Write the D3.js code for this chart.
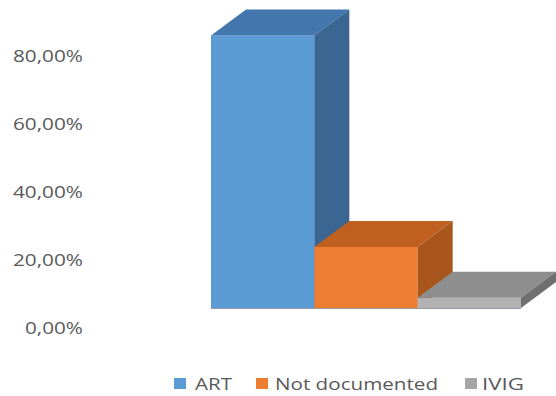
<!DOCTYPE html>
<html><head><meta charset="utf-8">
<script src="https://cdn.jsdelivr.net/npm/d3@7"></script>
<style>body{margin:0;background:#fff}svg{display:block}</style>
</head><body>
<script>
const categories = ["ART", "Not documented", "IVIG"];
const values = [80.4, 18.0, 3.0];
const tickValues = [0, 20, 40, 60, 80];
const tickLabels = ["0,00%", "20,00%", "40,00%", "60,00%", "80,00%"];
const frontColors = ["#5B9BD5", "#ED7D31", "#B2B2B2"];
const topColors = ["#4476AE", "#BF5F20", "#8E8E8E"];
const sideColors = ["#3A6691", "#A9561D", "#6F6F6F"];

const W = 556, H = 396;
const svg = d3.select("body").append("svg").attr("width", W).attr("height", H);

const y = d3.scaleLinear().domain([0, 80]).range([327, 55.8]);
const x = d3.scaleBand().domain(categories).range([211, 521]).padding(0);
const frontShift = 19;    // front plane sits above axis label positions
const dx = 35, dy = -26;  // depth projection

const labelWidths = {"0,00%": 58, "20,00%": 70, "40,00%": 70, "60,00%": 70, "80,00%": 70};
const ax = svg.append("g");
tickValues.forEach((t, i) => {
  const txt = tickLabels[i];
  ax.append("text")
    .attr("x", 83).attr("y", y(t))
    .attr("text-anchor", "end")
    .attr("dominant-baseline", "central")
    .attr("font-family", "Open Sans")
    .attr("font-size", 17)
    .attr("fill", "#595959")
    .attr("textLength", labelWidths[txt])
    .attr("lengthAdjust", "spacingAndGlyphs")
    .text(txt);
});

const g = svg.append("g");
const base = y(0) - frontShift;
categories.forEach((c, i) => {
  const x0 = x(c), x1 = x(c) + x.bandwidth();
  const yt = y(values[i]) - frontShift;
  // front
  g.append("rect").attr("x", x0).attr("y", yt).attr("width", x1 - x0).attr("height", base - yt)
    .attr("fill", frontColors[i]);
  // top
  g.append("path").attr("d", `M${x0},${yt}L${x1},${yt}L${x1+dx},${yt+dy}L${x0+dx},${yt+dy}Z`)
    .attr("fill", topColors[i]);
  // side
  g.append("path").attr("d", `M${x1},${yt}L${x1+dx},${yt+dy}L${x1+dx},${base+dy}L${x1},${base}Z`)
    .attr("fill", sideColors[i]);
});
// floor front edge
svg.append("line").attr("x1", x.range()[0]).attr("x2", x.range()[1])
  .attr("y1", base + 0.5).attr("y2", base + 0.5)
  .attr("stroke", "#9a98ad").attr("stroke-width", 1);

// legend
const legendItems = [
  {sq: 174, tx: 195, w: 37},
  {sq: 256, tx: 275, w: 163},
  {sq: 465, tx: 482, w: 42}
];
const lg = svg.append("g");
categories.forEach((c, i) => {
  lg.append("rect").attr("x", legendItems[i].sq).attr("y", 378).attr("width", 12).attr("height", 11)
    .attr("fill", frontColors[i] === "#B2B2B2" ? "#A5A5A5" : frontColors[i]);
  lg.append("text").attr("x", legendItems[i].tx).attr("y", 389.5)
    .attr("font-family", "Open Sans").attr("font-size", 17).attr("fill", "#595959")
    .attr("textLength", legendItems[i].w).attr("lengthAdjust", "spacingAndGlyphs")
    .text(c);
});
</script>
</body></html>
